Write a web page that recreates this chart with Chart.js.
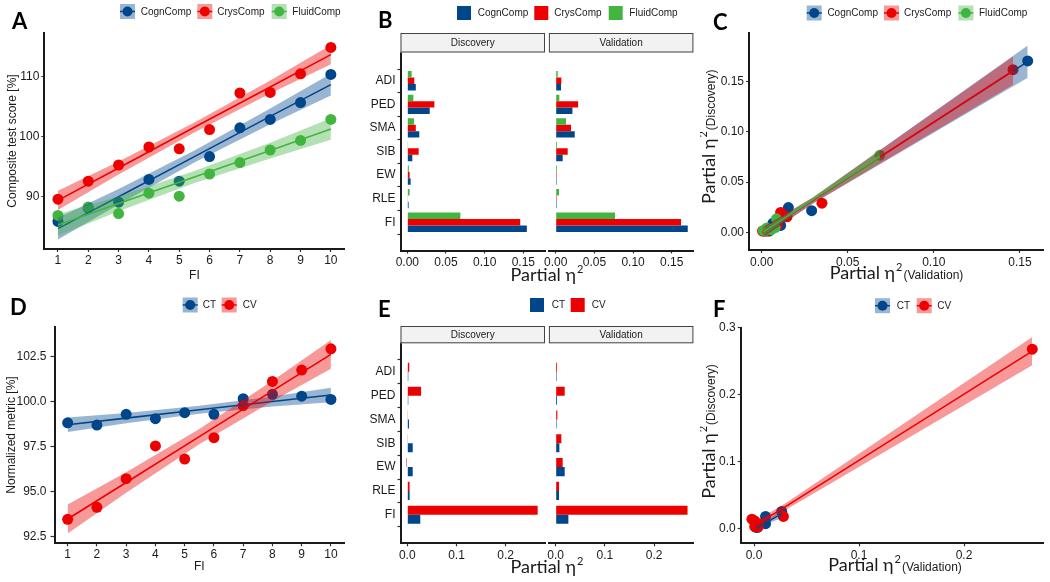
<!DOCTYPE html>
<html><head><meta charset="utf-8">
<script src="https://cdn.jsdelivr.net/npm/chart.js@4.4.1/dist/chart.umd.min.js"></script>
<style>
html,body{margin:0;padding:0;background:#fff}
#wrap{position:relative;width:1050px;height:582px;overflow:hidden;background:#fff}
canvas{position:absolute}
</style></head><body>
<div id="wrap">
<canvas id="cA" width="350" height="291" style="left:0;top:0"></canvas>
<canvas id="cB" width="350" height="291" style="left:350px;top:0"></canvas>
<canvas id="cC" width="350" height="291" style="left:700px;top:0"></canvas>
<canvas id="cD" width="350" height="291" style="left:0;top:291px"></canvas>
<canvas id="cE" width="350" height="291" style="left:350px;top:291px"></canvas>
<canvas id="cF" width="350" height="291" style="left:700px;top:291px"></canvas>
</div>
<script>
// ---------------- data ----------------
// Panel A
const fiLevels  = [1, 2, 3, 4, 5, 6, 7, 8, 9, 10];
const cognComp  = [85.8, 88.0, 89.0, 92.8, 92.5, 96.6, 101.4, 102.8, 105.6, 110.3];
const crysComp  = [89.5, 92.5, 95.2, 98.2, 97.9, 101.1, 107.2, 107.3, 110.4, 114.8];
const fluidComp = [86.8, 88.2, 87.1, 90.5, 90.0, 93.7, 95.6, 97.7, 99.3, 102.8];
const fitFI     = [1, 3, 5.5, 8, 10];
const cognFit   = [84.6, 89.9, 96.6, 103.3, 108.6];
const cognLo    = [82.8, 88.6, 95.6, 102.0, 106.8];
const cognHi    = [86.4, 91.2, 97.6, 104.6, 110.4];
const crysFit   = [89.3, 94.7, 101.5, 108.2, 113.6];
const crysLo    = [87.7, 93.6, 100.6, 107.1, 112.0];
const crysHi    = [90.9, 95.8, 102.3, 109.3, 115.2];
const fluidFit  = [85.2, 88.8, 93.2, 97.6, 101.2];
const fluidLo   = [83.4, 87.5, 92.2, 96.3, 99.4];
const fluidHi   = [87.0, 90.0, 94.2, 98.9, 103.0];
const cogSeries = ['CognComp', 'CrysComp', 'FluidComp'];
const fiTicks   = [1, 2, 3, 4, 5, 6, 7, 8, 9, 10];
const fiLabels  = ['1', '2', '3', '4', '5', '6', '7', '8', '9', '10'];
const aYTicks   = [90, 100, 110];
const aYLabels  = ['90', '100', '110'];

// Panel B (partial eta squared)
const predictors = ['ADI', 'PED', 'SMA', 'SIB', 'EW', 'RLE', 'FI'];
const bDiscCogn  = [0.011, 0.029, 0.0155, 0.0065, 0.0043, 0.0017, 0.1545];
const bDiscCrys  = [0.009, 0.035, 0.011, 0.0147, 0.003, 0.0005, 0.146];
const bDiscFluid = [0.0056, 0.0078, 0.0086, 0.001, 0.002, 0.003, 0.0686];
const bValCogn   = [0.0069, 0.0216, 0.0246, 0.009, 0.0013, 0.0013, 0.1707];
const bValCrys   = [0.0073, 0.029, 0.0198, 0.0155, 0.0013, 0.0013, 0.162];
const bValFluid  = [0.0026, 0.0047, 0.0134, 0.0017, 0.0017, 0.0043, 0.0767];
const bTicks     = [0, 0.05, 0.10, 0.15];
const bLabels    = ['0.00', '0.05', '0.10', '0.15'];
const predTicks  = [0, 1, 2, 3, 4, 5, 6];
const facets     = ['Discovery', 'Validation'];

// Panel C fits
const cCognX  = [0.0017, 0.03, 0.1545];
const cCognF  = [0.0009, 0.032, 0.170];
const cCognLo = [-0.004, 0.029, 0.154];
const cCognHi = [0.006, 0.035, 0.186];
const cCrysX  = [0.0005, 0.03, 0.146];
const cCrysF  = [0.000, 0.032, 0.161];
const cCrysLo = [-0.005, 0.029, 0.147];
const cCrysHi = [0.005, 0.035, 0.175];
const cFluidX  = [0.001, 0.03, 0.0686];
const cFluidF  = [0.0004, 0.033, 0.0755];
const cFluidLo = [-0.003, 0.031, 0.0695];
const cFluidHi = [0.0038, 0.035, 0.0815];

// Panel D
const ctVals = [98.83, 98.70, 99.30, 99.06, 99.39, 99.30, 100.17, 100.41, 100.31, 100.13];
const cvVals = [93.46, 94.13, 95.72, 97.54, 96.81, 98.00, 99.78, 101.13, 101.76, 102.94];
const ctFit  = [98.72, 99.09, 99.55, 100.01, 100.37];
const ctLo   = [98.32, 98.81, 99.33, 99.73, 99.97];
const ctHi   = [99.12, 99.37, 99.77, 100.29, 100.77];
const cvFit  = [93.48, 95.51, 98.06, 100.60, 102.63];
const cvLo   = [92.68, 94.94, 97.63, 100.03, 101.83];
const cvHi   = [94.28, 96.08, 98.49, 101.17, 103.43];
const brainSeries = ['CT', 'CV'];
const dYTicks  = [92.5, 95.0, 97.5, 100.0, 102.5];
const dYLabels = ['92.5', '95.0', '97.5', '100.0', '102.5'];

// Panel E
const eDiscCT = [0.002, 0.002, 0.0034, 0.011, 0.011, 0.0047, 0.0264];
const eDiscCV = [0.004, 0.028, 0.0007, 0.0007, -0.002, 0.0047, 0.265];
const eValCT  = [0.002, 0.0027, 0.002, 0.0075, 0.0183, 0.0068, 0.0258];
const eValCV  = [0.0027, 0.0183, 0.0034, 0.0115, 0.0142, 0.0068, 0.268];
const eTicks  = [0, 0.1, 0.2];
const eLabels = ['0.0', '0.1', '0.2'];

// Panel F fits
const fCtX  = [0.002, 0.015, 0.0264];
const fCtF  = [0.002, 0.012, 0.0225];
const fCtLo = [-0.003, 0.009, 0.016];
const fCtHi = [0.007, 0.015, 0.029];
const fCvX  = [-0.002, 0.03, 0.265];
const fCvF  = [0.002, 0.033, 0.265];
const fCvLo = [-0.004, 0.028, 0.244];
const fCvHi = [0.008, 0.038, 0.286];
const fYTicks  = [0, 0.1, 0.2, 0.3];
const fYLabels = ['0.0', '0.1', '0.2', '0.3'];

// ---------------- styling helpers ----------------
const F_SANS = "'Liberation Sans', Arial, sans-serif";
const F_CAL  = "Lato, 'Open Sans', sans-serif";
const BLUE = '#00468B', RED = '#ED0000', GREEN = '#42B540';
const INK = '#1a1a1a';
const BAND_A = 0.4;
function rgba(hex, a){ const n = parseInt(hex.slice(1), 16); return `rgba(${n>>16},${(n>>8)&255},${n&255},${a})`; }
const xy = (xs, ys) => xs.map((x, i) => ({x, y: ys[i]}));

function linAxis(o){
  const horiz = o.pos === 'bottom';
  const shown = o.show !== false;
  return {
    type: 'linear', position: o.pos, min: o.min, max: o.max, reverse: !!o.reverse, bounds: 'data',
    display: shown,
    afterBuildTicks: s => { s.ticks = o.ticks.map(v => ({value: v})); },
    afterFit: s => { if (!shown) { if (horiz) s.height = 0; else s.width = 0; return; }
                     if (horiz) s.height = o.size; else s.width = o.size; },
    ticks: { display: shown, autoSkip: false, maxRotation: 0, minRotation: 0, padding: o.pad ?? 2, color: INK,
             font: {family: F_SANS, size: 12}, callback: (v, i) => o.labels[i] },
    grid: { display: shown, drawOnChartArea: false, drawTicks: true, tickLength: o.tl ?? 3, tickColor: '#333', tickWidth: 1.2 },
    border: { display: shown, color: INK, width: 2 },
    title: o.title ? { display: true, text: o.title, color: INK, font: {family: F_SANS, size: 12},
                       padding: o.titlePad || {top: 4, bottom: 4} } : { display: false }
  };
}
function baseOpts(pad, scales, extra){
  return Object.assign({ responsive: false, animation: false, events: [], devicePixelRatio: 1,
    layout: {padding: pad}, plugins: {legend: {display: false}, tooltip: {enabled: false}}, scales }, extra || {});
}
function band(xs, lo, hi, color, order){
  return [
    {data: xy(xs, lo), borderWidth: 0, borderColor: 'rgba(0,0,0,0)', pointRadius: 0, fill: false, order},
    {data: xy(xs, hi), borderWidth: 0, borderColor: 'rgba(0,0,0,0)', pointRadius: 0, fill: '-1',
     backgroundColor: rgba(color, BAND_A), order}
  ];
}
function fitLine(xs, ys, color, order){
  return {data: xy(xs, ys), borderColor: color, borderWidth: 1.6, pointRadius: 0, fill: false, tension: 0, order};
}
function points(xs, ys, color, order){
  return {data: xy(xs, ys), showLine: false, pointRadius: 5.5, pointBackgroundColor: color,
          pointBorderColor: color, pointBorderWidth: 0, order, clip: false};
}
function letter(ctx, ch, x, y){
  ctx.save(); ctx.beginPath(); ctx.font = `bold 22px ${F_CAL}`; ctx.fillStyle = '#000';
  ctx.textAlign = 'left'; ctx.textBaseline = 'alphabetic'; ctx.fillText(ch, x, y); ctx.restore();
}
function legend(ctx, labels, colors, keyX, textX, y, kind){
  ctx.save(); ctx.beginPath();
  labels.forEach((lab, i) => {
    const x = keyX[i], c = colors[i];
    if (kind === 'band'){
      ctx.fillStyle = rgba(c, BAND_A); ctx.fillRect(x, y - 7.5, 15, 15);
      ctx.strokeStyle = c; ctx.lineWidth = 1.5; ctx.beginPath(); ctx.moveTo(x, y); ctx.lineTo(x + 15, y); ctx.stroke();
      ctx.fillStyle = c; ctx.beginPath(); ctx.arc(x + 7.5, y, 5, 0, 2 * Math.PI); ctx.fill();
    } else {
      ctx.fillStyle = c; ctx.fillRect(x, y - 7, 14, 14);
    }
    ctx.fillStyle = INK; ctx.font = `10px ${F_SANS}`; ctx.textAlign = 'left'; ctx.textBaseline = 'middle';
    ctx.fillText(lab, textX[i], y + 0.5);
  });
  ctx.beginPath(); ctx.restore();
}
function strip(ctx, left, right, top, bottom, label){
  ctx.save(); ctx.beginPath();
  ctx.fillStyle = '#F2F2F2'; ctx.fillRect(left, top, right - left, bottom - top);
  ctx.strokeStyle = '#444'; ctx.lineWidth = 1; ctx.strokeRect(left + 0.5, top + 0.5, right - left - 1, bottom - top - 1);
  ctx.fillStyle = INK; ctx.font = `10px ${F_SANS}`; ctx.textAlign = 'center'; ctx.textBaseline = 'middle';
  ctx.fillText(label, (left + right) / 2, (top + bottom) / 2 + 0.5); ctx.restore();
}
function etaTitle(ctx, cx, cy, suffix, rotated){
  ctx.save(); ctx.beginPath(); ctx.translate(cx, cy); if (rotated) ctx.rotate(-Math.PI / 2);
  const big = `18px ${F_CAL}`, sup = `11px ${F_CAL}`, suf = `12px ${F_SANS}`;
  const t1 = 'Partial η', t2 = '2';
  ctx.font = big; const w1 = ctx.measureText(t1).width;
  ctx.font = sup; const w2 = ctx.measureText(t2).width;
  ctx.font = suf; const w3 = suffix ? ctx.measureText(suffix).width + 1 : 0;
  let x = -(w1 + w2 + w3 + 1) / 2;
  ctx.textAlign = 'left'; ctx.textBaseline = 'alphabetic'; ctx.fillStyle = INK;
  ctx.font = big; ctx.fillText(t1, x, 0); x += w1 + 1;
  ctx.font = sup; ctx.fillText(t2, x, -8); x += w2 + 1;
  if (suffix){ ctx.font = suf; ctx.fillText(suffix, x, 0); }
  ctx.restore();
}
const deco = fn => [{id: 'deco', afterDraw: chart => { const c = chart.ctx; c.save(); c.beginPath(); fn(c, chart.chartArea, chart); c.beginPath(); c.restore(); }}];

// ---------------- Panel A ----------------
new Chart(document.getElementById('cA'), {
  type: 'line',
  data: { datasets: [
    points(fiLevels, cognComp, BLUE, 12), points(fiLevels, crysComp, RED, 11), points(fiLevels, fluidComp, GREEN, 10),
    ...band(fitFI, cognLo, cognHi, BLUE, 9), fitLine(fitFI, cognFit, BLUE, 8),
    ...band(fitFI, crysLo, crysHi, RED, 7), fitLine(fitFI, crysFit, RED, 6),
    ...band(fitFI, fluidLo, fluidHi, GREEN, 5), fitLine(fitFI, fluidFit, GREEN, 4)
  ]},
  options: baseOpts({top: 33, right: 5.4, left: 0, bottom: 0}, {
    x: linAxis({pos: 'bottom', min: 0.55, max: 10.45, ticks: fiTicks, labels: fiLabels, size: 42, pad: 1,
                title: 'FI', titlePad: {top: 0, bottom: 8}}),
    y: linAxis({pos: 'left', min: 81.2, max: 117.2, ticks: aYTicks, labels: aYLabels, size: 44.3,
                title: 'Composite test score [%]', titlePad: {top: 5, bottom: 0}})
  }),
  plugins: deco(ctx => {
    letter(ctx, 'A', 12, 29);
    legend(ctx, cogSeries, [BLUE, RED, GREEN], [120, 197.3, 271.7], [140.7, 217.3, 292.3], 11.5, 'band');
  })
});

// ---------------- Faceted bar panels (B, E): one chart, two side-by-side x axes ----------------
function facetChart(id, discVals, valVals, colors, stackIds, xr, ticks, labels, xh, pad, catPct, decoFn){
  const mk = (vals, axisId) => vals.map((v, k) => ({
    data: v.map((x, i) => ({x, y: predTicks[i]})), backgroundColor: colors[k], borderWidth: 0,
    stack: stackIds[k], xAxisID: axisId, yAxisID: 'y'
  }));
  const xd = Object.assign(linAxis({pos: 'bottom', min: xr[0], max: xr[1], ticks, labels, size: xh}),
                           {stack: 'facet', stackWeight: 144.5, stacked: false, weight: 1});
  const xg = Object.assign(linAxis({pos: 'bottom', min: 0, max: 1, ticks: [], labels: [], size: 0, show: false}),
                           {stack: 'facet', stackWeight: 3.9, weight: 2});
  const xv = Object.assign(linAxis({pos: 'bottom', min: xr[0], max: xr[1], ticks, labels, size: xh}),
                           {stack: 'facet', stackWeight: 144.5, stacked: false, weight: 3});
  const y = linAxis({pos: 'left', min: -0.6, max: 6.6, reverse: true, ticks: predTicks, labels: predictors, size: 50.5});
  return new Chart(document.getElementById(id), {
    type: 'bar',
    data: {datasets: [...mk(discVals, 'xd'), ...mk(valVals, 'xv')]},
    options: baseOpts(pad, {xd, xg, xv, y},
      {indexAxis: 'y', datasets: {bar: {categoryPercentage: catPct, barPercentage: 1.0}}}),
    plugins: deco(decoFn)
  });
}

// ---------------- Panel B ----------------
facetChart('cB', [bDiscFluid, bDiscCrys, bDiscCogn], [bValFluid, bValCrys, bValCogn],
  [GREEN, RED, BLUE], ['g', 'r', 'b'], [-0.0088, 0.178], bTicks, bLabels, 40.5,
  {top: 52.5, right: 6.6, left: 0, bottom: 0}, 0.82,
  (ctx, a, ch) => {
    const d = ch.scales.xd, v = ch.scales.xv;
    letter(ctx, 'B', 28, 28);
    legend(ctx, cogSeries, [BLUE, RED, GREEN], [107, 184.3, 258.7], [127.7, 204.3, 279.3], 13, 'box');
    strip(ctx, d.left, d.right, 33, 52.5, facets[0]);
    strip(ctx, v.left, v.right, 33, 52.5, facets[1]);
    etaTitle(ctx, (d.left + v.right) / 2, 281, '', false);
  });

// ---------------- Panel C ----------------
new Chart(document.getElementById('cC'), {
  type: 'line',
  data: { datasets: [
    points(bDiscCogn, bValCogn, BLUE, 12), points(bDiscCrys, bValCrys, RED, 11), points(bDiscFluid, bValFluid, GREEN, 10),
    ...band(cCognX, cCognLo, cCognHi, BLUE, 9), fitLine(cCognX, cCognF, BLUE, 8),
    ...band(cCrysX, cCrysLo, cCrysHi, RED, 7), fitLine(cCrysX, cCrysF, RED, 6),
    ...band(cFluidX, cFluidLo, cFluidHi, GREEN, 5), fitLine(cFluidX, cFluidF, GREEN, 4)
  ]},
  options: baseOpts({top: 33, right: 7, left: 0, bottom: 0}, {
    x: linAxis({pos: 'bottom', min: -0.00737, max: 0.1634, ticks: bTicks, labels: bLabels, size: 41}),
    y: linAxis({pos: 'left', min: -0.0176, max: 0.1985, ticks: bTicks, labels: bLabels, size: 49})
  }),
  plugins: deco(ctx => {
    letter(ctx, 'C', 13, 30);
    legend(ctx, cogSeries, [BLUE, RED, GREEN], [106.7, 184, 258.4], [127.4, 204, 279], 13, 'band');
    etaTitle(ctx, 196.5, 279, '(Validation)', false);
    etaTitle(ctx, 15, 136.7, '(Discovery)', true);
  })
});

// ---------------- Panel D ----------------
new Chart(document.getElementById('cD'), {
  type: 'line',
  data: { datasets: [
    points(fiLevels, ctVals, BLUE, 12), points(fiLevels, cvVals, RED, 11),
    ...band(fitFI, ctLo, ctHi, BLUE, 9), fitLine(fitFI, ctFit, BLUE, 8),
    ...band(fitFI, cvLo, cvHi, RED, 7), fitLine(fitFI, cvFit, RED, 6)
  ]},
  options: baseOpts({top: 35.7, right: 5.9, left: 0, bottom: 0}, {
    x: linAxis({pos: 'bottom', min: 0.55, max: 10.45, ticks: fiTicks, labels: fiLabels, size: 38.7, pad: 1,
                title: 'FI', titlePad: {top: 0, bottom: 8}}),
    y: linAxis({pos: 'left', min: 92.13, max: 104.17, ticks: dYTicks, labels: dYLabels, size: 54.5, pad: 4, tl: 4,
                title: 'Normalized metric [%]', titlePad: {top: 4, bottom: 0}})
  }),
  plugins: deco(ctx => {
    letter(ctx, 'D', 10, 24);
    legend(ctx, brainSeries, [BLUE, RED], [182.7, 221.7], [202.7, 242.7], 14, 'band');
  })
});

// ---------------- Panel E ----------------
facetChart('cE', [eDiscCV, eDiscCT], [eValCV, eValCT],
  [RED, BLUE], ['r', 'b'], [-0.0138, 0.2799], eTicks, eLabels, 38.7,
  {top: 52.3, right: 6.6, left: 0, bottom: 0}, 0.76,
  (ctx, a, ch) => {
    const d = ch.scales.xd, v = ch.scales.xv;
    letter(ctx, 'E', 28, 26);
    legend(ctx, brainSeries, [BLUE, RED], [180, 220.7], [201.7, 241.7], 14, 'box');
    strip(ctx, d.left, d.right, 35, 52.3, facets[0]);
    strip(ctx, v.left, v.right, 35, 52.3, facets[1]);
    etaTitle(ctx, (d.left + v.right) / 2, 282, '', false);
  });

// ---------------- Panel F ----------------
new Chart(document.getElementById('cF'), {
  type: 'line',
  data: { datasets: [
    points(eDiscCT, eValCT, BLUE, 12), points(eDiscCV, eValCV, RED, 11),
    ...band(fCtX, fCtLo, fCtHi, BLUE, 9), fitLine(fCtX, fCtF, BLUE, 8),
    ...band(fCvX, fCvLo, fCvHi, RED, 7), fitLine(fCvX, fCvF, RED, 6)
  ]},
  options: baseOpts({top: 36.5, right: 6.7, left: 0, bottom: 0}, {
    x: linAxis({pos: 'bottom', min: -0.01267, max: 0.2755, ticks: eTicks, labels: eLabels, size: 38.7}),
    y: linAxis({pos: 'left', min: -0.0218, max: 0.3003, ticks: fYTicks, labels: fYLabels, size: 40.7})
  }),
  plugins: deco(ctx => {
    letter(ctx, 'F', 13, 26);
    legend(ctx, brainSeries, [BLUE, RED], [175, 216.7], [196.7, 237.3], 14.7, 'band');
    etaTitle(ctx, 195, 280, '(Validation)', false);
    etaTitle(ctx, 15, 140.5, '(Discovery)', true);
  })
});
</script>
</body></html>
